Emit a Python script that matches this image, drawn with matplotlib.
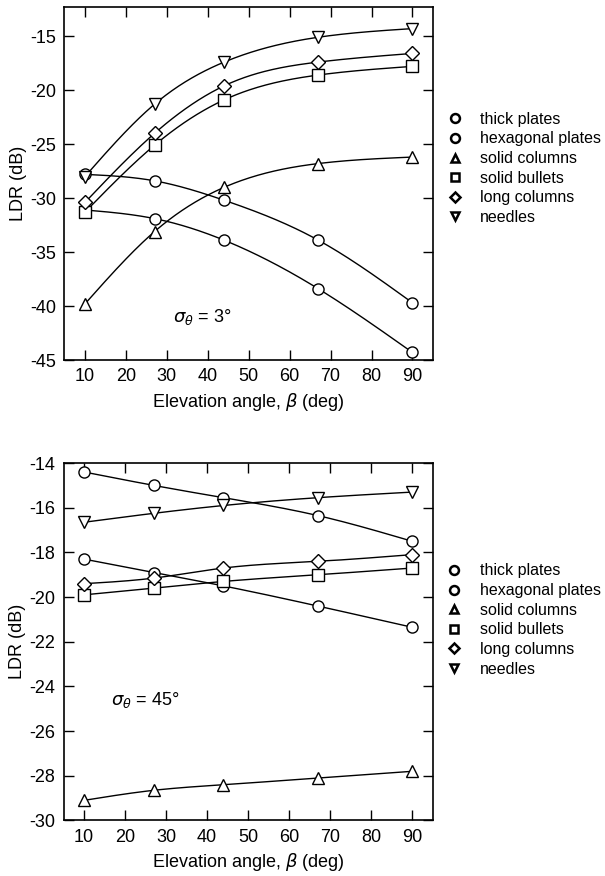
import numpy as np
import matplotlib
matplotlib.use("Agg")
import matplotlib.pyplot as plt

plt.rcParams['font.family'] = ['Liberation Sans', 'DejaVu Sans']
plt.rcParams['axes.unicode_minus'] = False
plt.rcParams['mathtext.fontset'] = 'dejavusans'

# elevation angles (deg)
elev = [10, 27, 44, 67, 90]

labels = ["thick plates", "hexagonal plates", "solid columns",
          "solid bullets", "long columns", "needles"]
markers = ["o", "o", "^", "s", "D", "v"]

# LDR (dB), sigma_theta = 3 deg
ldr_3 = {
    "thick plates":     [-27.8, -28.4, -30.2, -33.9, -39.7],
    "hexagonal plates": [-31.1, -31.9, -33.9, -38.4, -44.3],
    "solid columns":    [-39.8, -33.1, -29.0, -26.8, -26.2],
    "solid bullets":    [-31.3, -25.1, -20.9, -18.6, -17.8],
    "long columns":     [-30.4, -24.0, -19.6, -17.4, -16.6],
    "needles":          [-28.0, -21.3, -17.4, -15.1, -14.3],
}

# LDR (dB), sigma_theta = 45 deg
ldr_45 = {
    "thick plates":     [-14.4, -15.0, -15.55, -16.35, -17.5],
    "hexagonal plates": [-18.3, -18.9, -19.5, -20.4, -21.35],
    "solid columns":    [-29.1, -28.65, -28.4, -28.1, -27.8],
    "solid bullets":    [-19.9, -19.6, -19.3, -19.0, -18.7],
    "long columns":     [-19.4, -19.15, -18.7, -18.4, -18.1],
    "needles":          [-16.65, -16.25, -15.9, -15.55, -15.3],
}


def smooth(x, y, n=200):
    # natural cubic spline through the points, just for drawing the line
    x = np.asarray(x, float)
    y = np.asarray(y, float)
    k = len(x)
    h = np.diff(x)
    A = np.zeros((k, k))
    r = np.zeros(k)
    A[0, 0] = A[-1, -1] = 1
    for i in range(1, k - 1):
        A[i, i - 1] = h[i - 1]
        A[i, i] = 2 * (h[i - 1] + h[i])
        A[i, i + 1] = h[i]
        r[i] = 6 * ((y[i + 1] - y[i]) / h[i] - (y[i] - y[i - 1]) / h[i - 1])
    m = np.linalg.solve(A, r)
    xs = np.linspace(x[0], x[-1], n)
    j = np.clip(np.searchsorted(x, xs) - 1, 0, k - 2)
    t = xs - x[j]
    hj = h[j]
    a = (m[j + 1] - m[j]) / (6 * hj)
    b = m[j] / 2
    c = (y[j + 1] - y[j]) / hj - hj * (2 * m[j] + m[j + 1]) / 6
    ys = y[j] + c * t + b * t ** 2 + a * t ** 3
    return xs, ys


def draw_panel(ax, data, yticks, ylim, note, note_xy, leg_top):
    for lab, mk in zip(labels, markers):
        xs, ys = smooth(elev, data[lab])
        ax.plot(xs, ys, color="black", lw=1.0, zorder=2)
        ax.plot(elev, data[lab], linestyle="none", marker=mk, ms=8 if mk != "D" else 7,
                mfc="white", mec="black", mew=1.0, zorder=3, label=lab)
    ax.set_xlim(5, 95)
    ax.set_ylim(*ylim)
    ax.set_xticks(range(10, 100, 10))
    ax.set_yticks(yticks)
    ax.tick_params(direction="in", length=7, width=1, top=True, right=True,
                   labelsize=13, pad=6)
    for s in ax.spines.values():
        s.set_linewidth(1.2)
    ax.set_xlabel(r"Elevation angle, $\beta$ (deg)", fontsize=13, labelpad=4)
    ax.set_ylabel("LDR (dB)", fontsize=13, labelpad=2)
    ax.text(note_xy[0], note_xy[1], note, fontsize=13, va="center")
    leg = ax.legend(loc="upper left", bbox_to_anchor=(1.016, 0.0, 0.5, leg_top),
                    frameon=False, fontsize=11.5, labelspacing=0.29,
                    handletextpad=0.6, markerscale=0.8,
                    borderaxespad=0, borderpad=0)
    for hnd in leg.legend_handles:
        hnd.set_markeredgewidth(1.8)


fig = plt.figure(figsize=(6.05, 8.76), dpi=100)
ax1 = fig.add_axes([0.1066, 0.589, 0.609, 0.403])
ax2 = fig.add_axes([0.1050, 0.0634, 0.610, 0.408])

draw_panel(ax1, ldr_3, range(-45, -14, 5), (-45, -12.3),
           r"$\sigma_\theta$ = 3°", (31.5, -41), 0.703)
draw_panel(ax2, ldr_45, range(-30, -13, 2), (-30, -14),
           r"$\sigma_\theta$ = 45°", (16.5, -24.6), 0.719)

fig.savefig("out.png", dpi=100)
